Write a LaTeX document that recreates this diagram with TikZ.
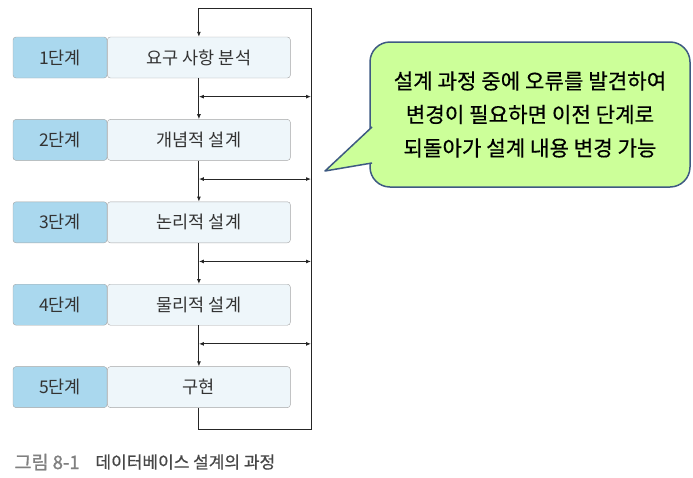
\documentclass[tikz,border=0pt]{standalone}
\usepackage{fontspec}
\setmainfont{Noto Sans CJK KR}
\usetikzlibrary{arrows.meta, positioning, calc}
\definecolor{stagefill}{RGB}{170,216,238}
\definecolor{taskfill}{RGB}{238,246,250}
\definecolor{boxline}{RGB}{165,165,165}
\definecolor{notefill}{RGB}{204,255,153}
\definecolor{noteline}{RGB}{62,90,130}
\tikzset{
    stagebox/.style={rectangle, draw=boxline, fill=stagefill, rounded corners=3pt, minimum width=94pt, minimum height=41pt, inner sep=0pt, font=\fontsize{17.5}{20}\selectfont, text=black!80},
    taskbox/.style={stagebox, fill=taskfill, minimum width=183pt},
    flow/.style={line width=0.9pt, draw=black!85},
    notebox/.style={draw=noteline, fill=notefill, line width=1.5pt, rounded corners=20pt, minimum width=320pt, minimum height=145pt, align=center, font=\fontsize{21.2}{33.5}\selectfont\addfontfeatures{FakeBold=0.4}},
}

\begin{document}
\begin{tikzpicture}[x=1pt, y=-1pt]
    \tikzset{
      node distance=41pt,
      >={Latex[length=5pt, width=4pt]}
    }
    \useasboundingbox (0,0) rectangle (693,477);

    \node[stagebox] (s1) at (60,57.5) {1단계};
    \node[taskbox, right=0pt of s1] (t1) {요구 사항 분석};
    \node[stagebox, below=of s1] (s2) {2단계};
    \node[taskbox, right=0pt of s2] (t2) {개념적 설계};
    \node[stagebox, below=of s2] (s3) {3단계};
    \node[taskbox, right=0pt of s3] (t3) {논리적 설계};
    \node[stagebox, below=of s3] (s4) {4단계};
    \node[taskbox, right=0pt of s4] (t4) {물리적 설계};
    \node[stagebox, below=of s4] (s5) {5단계};
    \node[taskbox, right=0pt of s5] (t5) {구현};

    \coordinate (rt) at (311,8);
    \coordinate (rb) at (311,429);
    \coordinate (m1) at ($(t1.south)!0.45!(t2.north)$);
    \coordinate (m2) at ($(t2.south)!0.45!(t3.north)$);
    \coordinate (m3) at ($(t3.south)!0.45!(t4.north)$);
    \coordinate (m4) at ($(t4.south)!0.45!(t5.north)$);

    \draw[flow, ->] (t5.south) |- (rb) -- (rt) -| (t1.north);
    \draw[flow] (t1) edge[->] (t2);
    \draw[flow] (t2) edge[->] (t3);
    \draw[flow] (t3) edge[->] (t4);
    \draw[flow] (t4) edge[->] (t5);
    \draw[flow] (m1) edge[<->] (m1 -| rt);
    \draw[flow] (m2) edge[<->] (m2 -| rt);
    \draw[flow] (m3) edge[<->] (m3 -| rt);
    \draw[flow] (m4) edge[<->] (m4 -| rt);

    \node[notebox] (note) at (530,114.5) {설계 과정 중에 오류를 발견하여\\변경이 필요하면 이전 단계로\\되돌아가 설계 내용 변경 가능};
    \coordinate (tip) at (325,171);
    \coordinate (pa) at (372,127);
    \coordinate (pb) at (372,163);
    \fill[notefill] (pa) -- (tip) -- (pb) -- cycle;
    \draw[noteline, line width=1.5pt, line join=round] (pa) -- (tip) -- (pb);

    \node[anchor=west, text=black!50, font=\fontsize{18.5}{20}\selectfont\addfontfeatures{FakeBold=1.2}] (fig) at (11,462) {그림 8-1};
    \node[anchor=west, text=black!72, font=\fontsize{17}{20}\selectfont\addfontfeatures{FakeBold=0.6}] (figtitle) at (92,462) {데이터베이스 설계의 과정};
\end{tikzpicture}
\end{document}
